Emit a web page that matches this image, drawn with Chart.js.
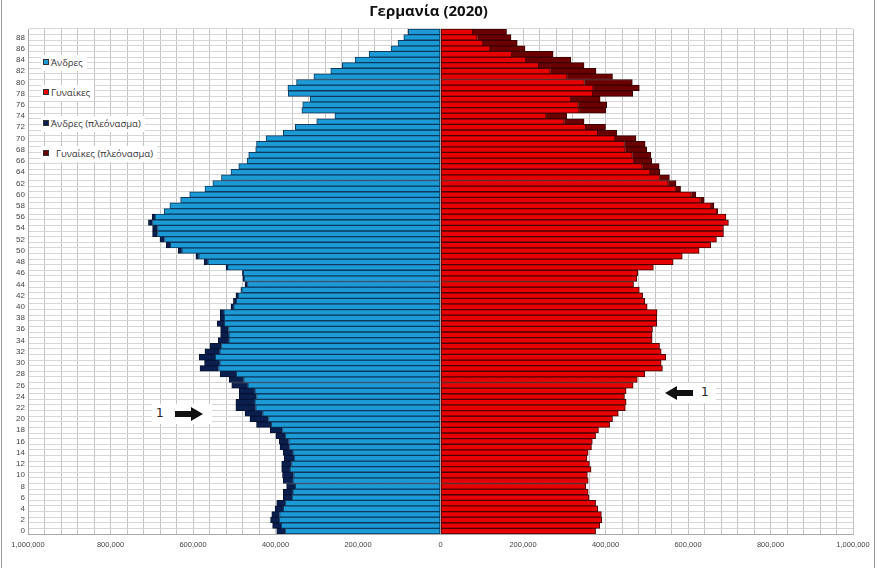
<!DOCTYPE html>
<html>
<head>
<meta charset="utf-8">
<script src="https://cdn.jsdelivr.net/npm/chart.js@4.4.1/dist/chart.umd.min.js"></script>
<style>
  html, body { margin: 0; padding: 0; background: #fff; }
  #wrap { position: relative; width: 878px; height: 568px; overflow: hidden; }
  .frame { position: absolute; top: 0; width: 1px; height: 568px; background: #9a9a9a; }
  .leg { position: absolute; font-family: 'Open Sans', 'DejaVu Sans', sans-serif; font-size: 9.5px; color: #333;
         background: #fff; padding: 2px 4px 2px 2px; line-height: 12px; white-space: nowrap; }
  .leg i { display: inline-block; width: 4px; height: 4px; border: 1px solid #333; margin-right: 2px; vertical-align: 1px; }
  .note { position: absolute; font-family: 'DejaVu Sans', sans-serif; font-size: 12px; color: #222; background: #fff; }
</style>
</head>
<body>
<div id="wrap">
  <canvas id="chart" width="878" height="568"></canvas>
  <div class="frame" style="left:1px"></div>
  <div class="frame" style="left:874px"></div>
  <div class="leg" style="left:41px; top:55px"><i style="background:#1b9ad6"></i>Άνδρες</div>
  <div class="leg" style="left:41px; top:85px"><i style="background:#e60000"></i>Γυναίκες</div>
  <div class="leg" style="left:41px; top:116px"><i style="background:#0b1f4f"></i>Άνδρες (πλεόνασμα)</div>
  <div class="leg" style="left:41px; top:146px"><i style="background:#6a0000"></i>&nbsp;&nbsp;Γυναίκες (πλεόνασμα)</div>
  <div class="note" style="left:152px; top:404px; width:60px; height:20px;">
    <span style="position:absolute; left:4px; top:2px">1</span>
    <svg style="position:absolute; left:21px; top:3px" width="32" height="14">
      <polygon points="2,4 18,4 18,0 30,7 18,14 18,10 2,10" fill="#111"/>
    </svg>
  </div>
  <div class="note" style="left:660px; top:383px; width:56px; height:20px;">
    <svg style="position:absolute; left:3px; top:3px" width="32" height="14">
      <polygon points="30,4 14,4 14,0 2,7 14,14 14,10 30,10" fill="#111"/>
    </svg>
    <span style="position:absolute; left:41px; top:2px">1</span>
  </div>
</div>
<script>
// ages 0..89
const ages = ['0','1','2','3','4','5','6','7','8','9',
  '10','11','12','13','14','15','16','17','18','19',
  '20','21','22','23','24','25','26','27','28','29',
  '30','31','32','33','34','35','36','37','38','39',
  '40','41','42','43','44','45','46','47','48','49',
  '50','51','52','53','54','55','56','57','58','59',
  '60','61','62','63','64','65','66','67','68','69',
  '70','71','72','73','74','75','76','77','78','79',
  '80','81','82','83','84','85','86','87','88','89'];

// population in thousands, index = age
const men = [397,407,412,409,401,397,381,381,373,381,
  383,385,385,379,381,389,391,399,413,446,
  462,474,496,496,488,488,506,512,534,583,
  572,585,571,559,539,533,533,541,534,534,
  508,502,496,484,474,479,480,520,573,593,
  636,665,680,698,698,708,699,670,656,630,
  608,571,552,531,508,489,469,465,448,446,
  423,381,352,300,256,336,334,316,369,370,
  349,307,266,238,207,173,120,103,89,78];

const women = [376,386,391,390,381,376,360,358,352,358,
  356,365,361,355,358,366,368,376,383,410,
  417,431,448,450,446,450,467,477,495,538,
  535,546,535,531,513,513,514,524,524,525,
  501,495,490,482,468,476,478,516,564,586,
  627,655,669,686,686,698,692,672,663,639,
  619,582,571,555,532,530,512,510,500,496,
  474,427,400,348,306,401,403,387,466,482,
  465,417,377,348,316,273,205,186,171,160];

// x axis labels, thousands
const xLabelTicks = [-1000,-800,-600,-400,-200,0,200,400,600,800,1000];

const common = men.map((m, i) => Math.min(m, women[i]));
const menExtra = men.map((m, i) => m > common[i] ? -(m - common[i]) : null);
const womenExtra = women.map((w, i) => w > common[i] ? w - common[i] : null);

const ctx = document.getElementById('chart').getContext('2d');
new Chart(ctx, {
    type: 'bar',
    data: {
        labels: ages,
        datasets: [
            { label: 'Άνδρες', data: common.map(v => -v), backgroundColor: '#1b9ad6', borderColor: '#0d3a5e', borderSkipped: false },
            { label: 'Άνδρες (πλεόνασμα)', data: menExtra, backgroundColor: '#0b1f4f', borderColor: '#061233' },
            { label: 'Γυναίκες', data: common, backgroundColor: '#e60000', borderColor: '#4a0000', borderSkipped: false },
            { label: 'Γυναίκες (πλεόνασμα)', data: womenExtra, backgroundColor: '#6a0000', borderColor: '#3a0000' }
        ]
    },
    options: {
        indexAxis: 'y',
        responsive: false,
        animation: false,
        datasets: { bar: { barPercentage: 1, categoryPercentage: 1, borderWidth: 1 } },
        layout: { padding: { left: 4, right: 25, bottom: 13, top: 0 } },
        plugins: {
            legend: { display: false },
            tooltip: { enabled: false },
            title: {
                display: true,
                text: 'Γερμανία (2020)',
                color: '#111',
                font: { family: "'Liberation Sans Narrow', 'Open Sans', sans-serif", size: 15, weight: 'bold' },
                padding: { top: 3, bottom: 8 }
            }
        },
        scales: {
            x: {
                stacked: true,
                min: -1000,
                max: 1000,
                grid: { color: '#c4c4c4', drawTicks: false },
                border: { color: '#aaa' },
                ticks: {
                    stepSize: 40,
                    maxTicksLimit: 60,
                    autoSkip: false,
                    maxRotation: 0,
                    padding: 6,
                    color: '#444',
                    font: { family: "'Liberation Sans', Arial, sans-serif", size: 7.5 },
                    callback: v => xLabelTicks.includes(Math.round(v)) ? Math.abs(Math.round(v) * 1000).toLocaleString('en-US') : ''
                }
            },
            y: {
                stacked: true,
                reverse: true,
                afterFit: s => { s.width = 24; },
                grid: { color: '#d6d6d6', drawTicks: false },
                border: { color: '#aaa' },
                ticks: {
                    autoSkip: false,
                    padding: 3,
                    color: '#444',
                    font: { family: "'Liberation Sans', Arial, sans-serif", size: 8 },
                    callback: function (val) {
                        const l = this.getLabelForValue(val);
                        return Number(l) % 2 === 0 ? l : '';
                    }
                }
            }
        }
    }
});
</script>
</body>
</html>
